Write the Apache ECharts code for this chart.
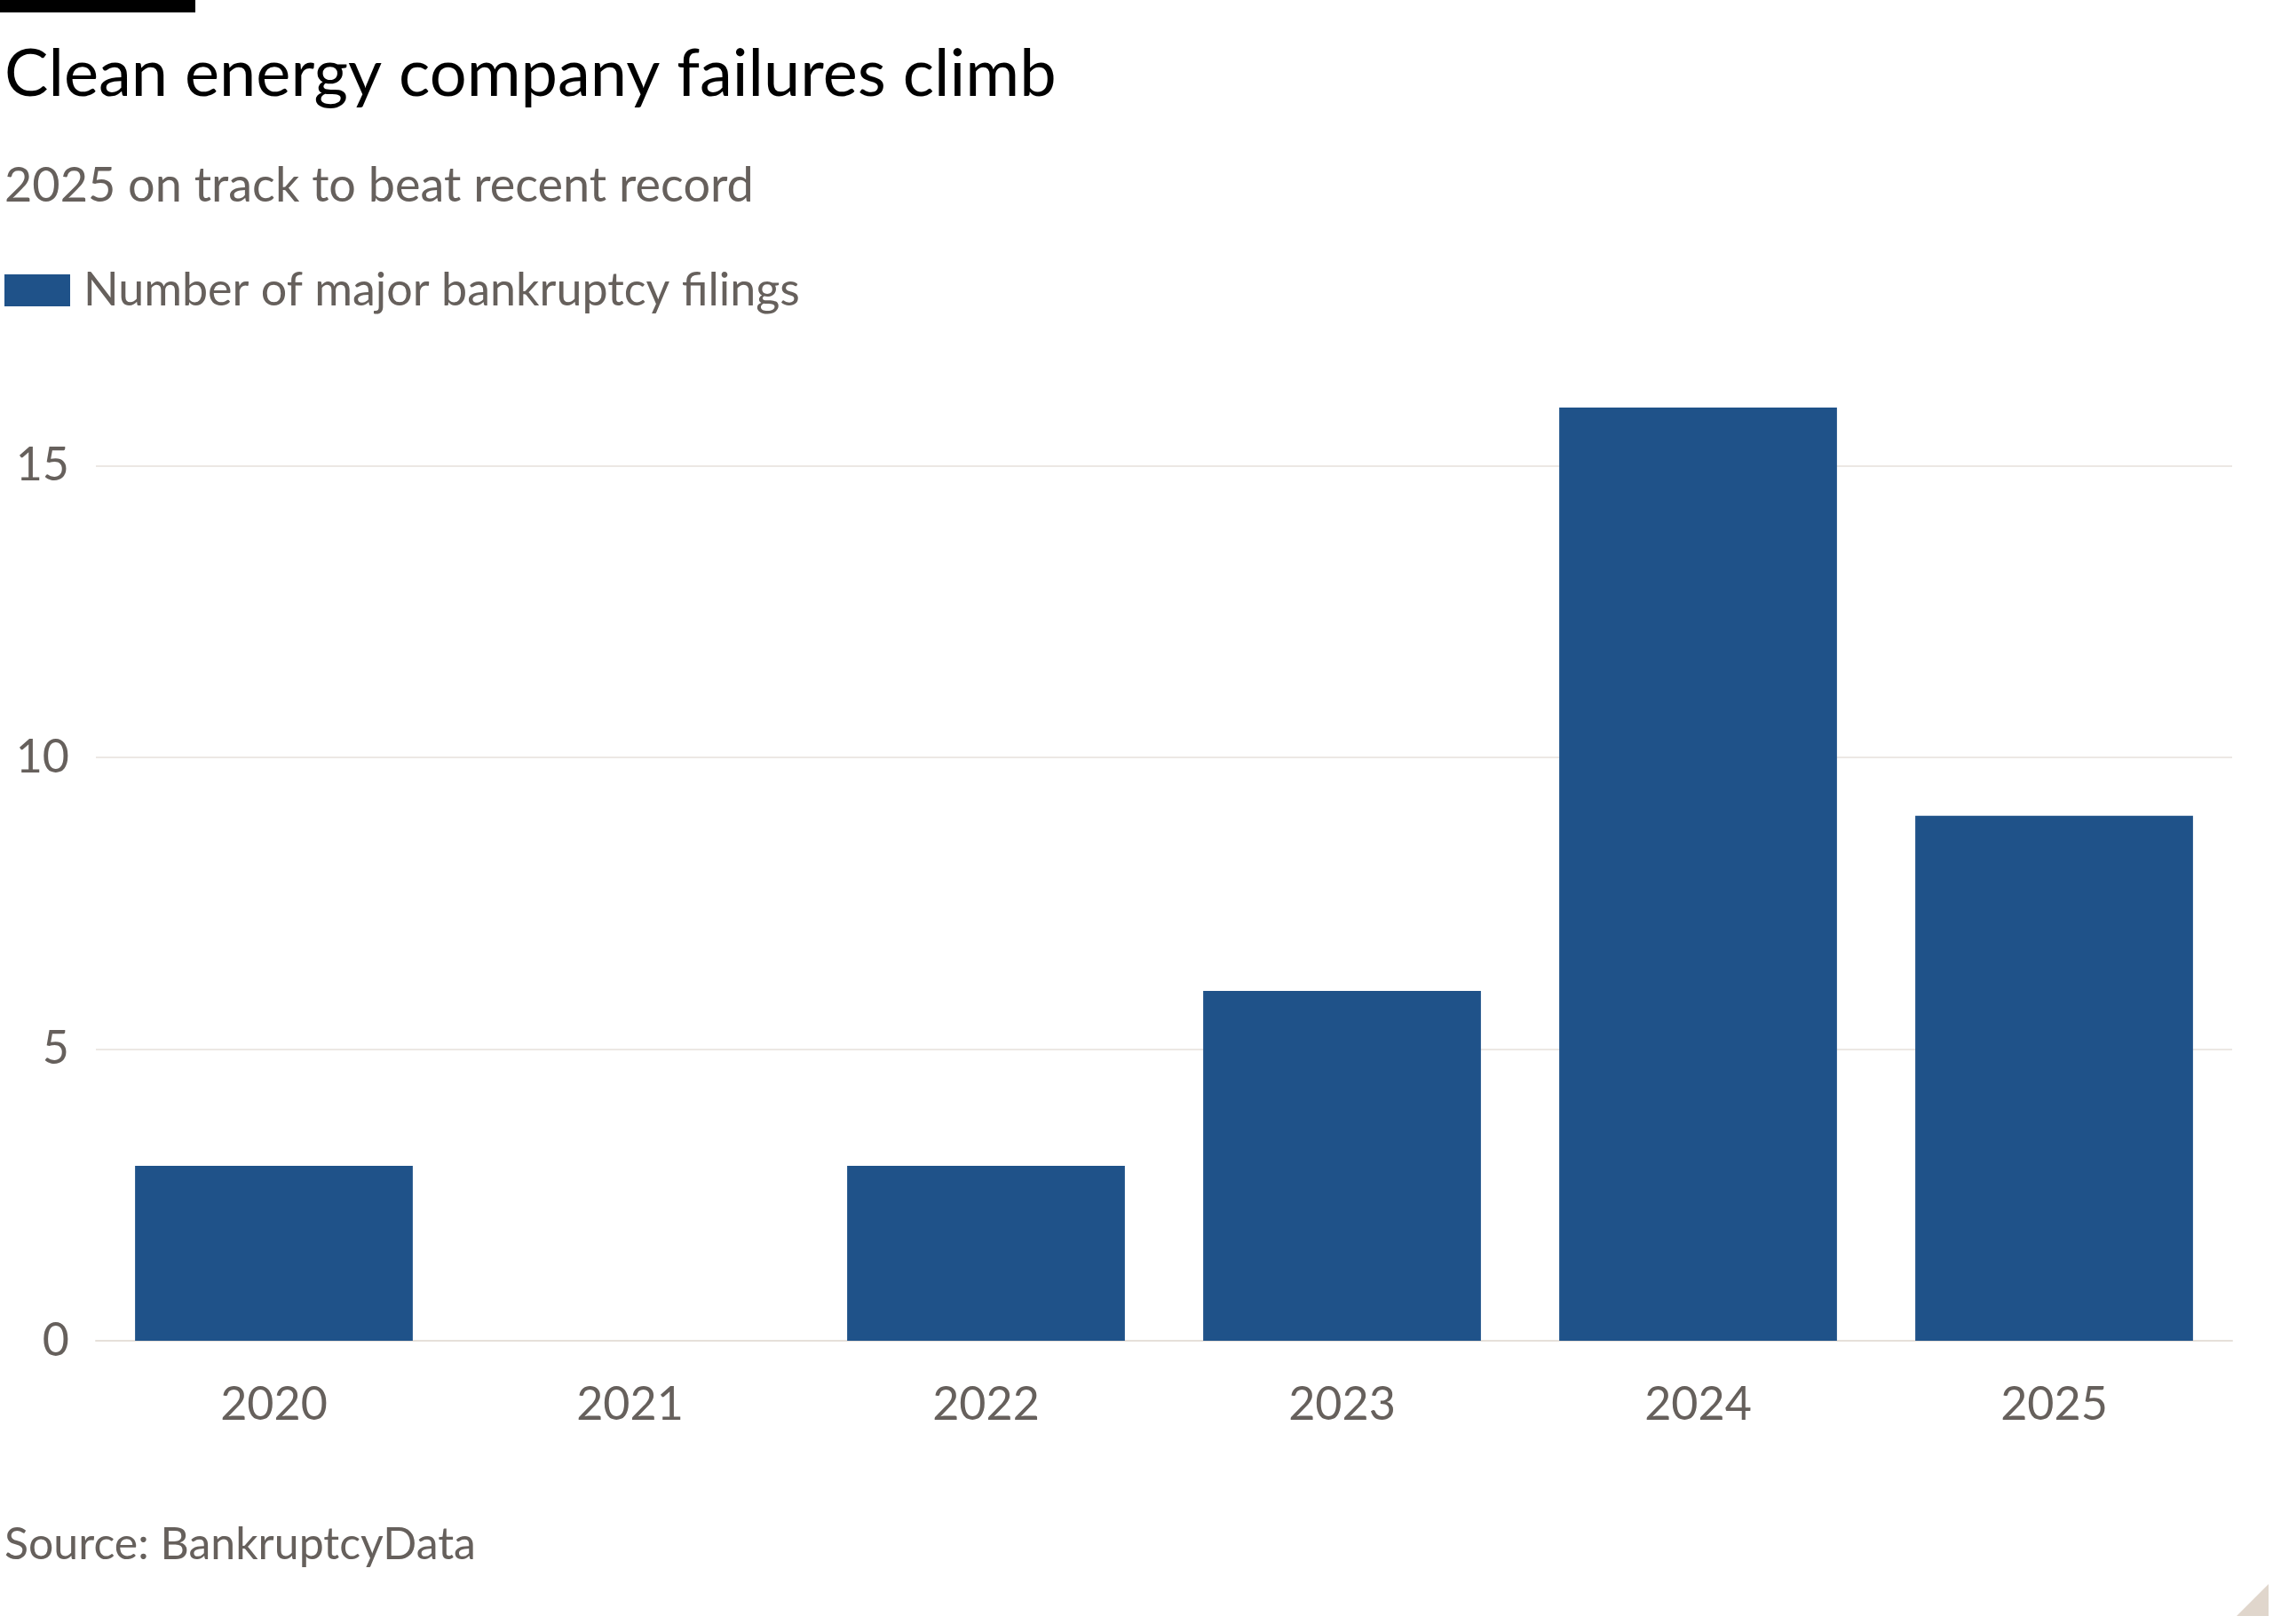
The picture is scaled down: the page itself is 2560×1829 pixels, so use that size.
<!DOCTYPE html>
<html><head><meta charset="utf-8">
<script src="https://cdn.jsdelivr.net/npm/echarts@6/dist/echarts.min.js"></script>
<style>html,body{margin:0;padding:0;background:#fff}#c{width:2560px;height:1829px}</style>
</head><body><div id="c"></div>
<script>
const categories = ['2020','2021','2022','2023','2024','2025'];
const filings = [3, 0, 3, 6, 16, 9];
const chart = echarts.init(document.getElementById('c'));
const font = 'Lato, "Open Sans", sans-serif';
chart.setOption({
  animation:false,
  backgroundColor:'#fff',
  title:[
    {text:'Clean energy company failures climb',left:0,top:42,textStyle:{fontFamily:font,fontSize:74,fontWeight:'normal',color:'#000'}},
    {text:'2025 on track to beat recent record',left:0,top:178,textStyle:{fontFamily:font,fontSize:54,fontWeight:'normal',color:'#66605c'}},
    {text:'Source: BankruptcyData',left:0,top:1710,textStyle:{fontFamily:font,fontSize:50,fontWeight:'normal',color:'#66605c'}}
  ],
  legend:{left:0,top:296,itemWidth:74,itemHeight:36,itemGap:20,icon:'rect',
    textStyle:{fontFamily:font,fontSize:52,color:'#66605c',padding:[0,0,0,10]}},
  graphic:[
    {type:'rect',shape:{x:0,y:0,width:220,height:14},style:{fill:'#000'}},
    {type:'polygon',shape:{points:[[2555,1784],[2555,1820],[2519,1820]]},style:{fill:'#e0d6cc'}}
  ],
  grid:{left:108,right:46,top:459,bottom:319,containLabel:false},
  xAxis:{type:'category',data:categories,
    axisLine:{lineStyle:{color:'#e6e0da',width:2}},
    axisTick:{alignWithLabel:true,length:16,lineStyle:{color:'#e6e0da',width:2}},
    axisLabel:{fontFamily:font,fontSize:52,color:'#66605c',margin:46}},
  yAxis:{type:'value',min:0,max:16,interval:5,
    axisLabel:{fontFamily:font,fontSize:52,color:'#66605c',showMaxLabel:false,margin:30},
    splitLine:{showMaxLine:false,lineStyle:{color:'#ece8e4',width:2}},
    axisLine:{show:false},axisTick:{show:false}},
  series:[{name:'Number of major bankruptcy filings',type:'bar',data:filings,
    barCategoryGap:'22%',itemStyle:{color:'#1f5289'}}]
});
</script></body></html>
